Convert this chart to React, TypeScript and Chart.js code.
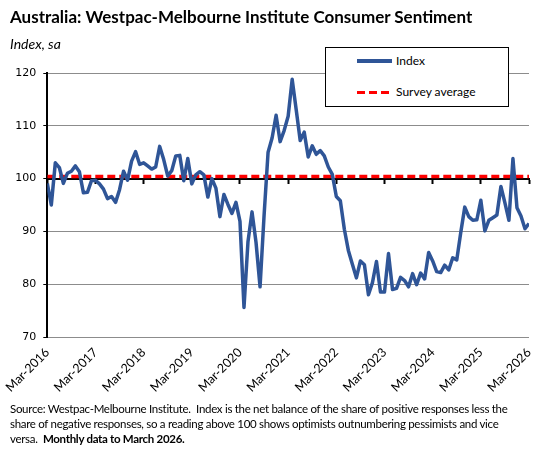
import React, { useEffect, useRef } from 'react';
import { Chart, registerables } from 'chart.js';

Chart.register(...registerables);

// Tick labels on the bottom axis (one per March)
const tickLabels = [
  'Mar-2016', 'Mar-2017', 'Mar-2018', 'Mar-2019', 'Mar-2020', 'Mar-2021',
  'Mar-2022', 'Mar-2023', 'Mar-2024', 'Mar-2025', 'Mar-2026',
];

// Monthly index, Mar-2016 .. Mar-2026
const index2016 = [99.1, 95.0, 103.0, 102.1, 99.1, 101.0, 101.4, 102.4, 101.3, 97.3];
const index2017 = [97.4, 99.6, 99.7, 99.0, 98.0, 96.2, 96.6, 95.5, 97.9, 101.4, 99.7, 103.3];
const index2018 = [105.1, 102.7, 103.0, 102.4, 101.8, 102.2, 106.1, 103.6, 100.5, 101.5, 104.3, 104.4];
const index2019 = [99.6, 103.8, 99.0, 100.7, 101.3, 100.7, 96.5, 100.0, 98.2, 92.8, 97.0, 95.1];
const index2020 = [93.4, 95.5, 91.9, 75.6, 88.1, 93.7, 87.9, 79.5, 93.0, 105.0, 107.7, 112.0];
const index2021 = [107.0, 109.1, 111.8, 118.8, 113.1, 107.2, 108.8, 104.1, 106.2, 104.6, 105.3, 104.3];
const index2022 = [102.2, 100.8, 96.6, 95.8, 90.4, 86.4, 83.8, 81.2, 84.4, 83.7, 78.0, 80.3];
const index2023 = [84.3, 78.5, 78.5, 85.8, 79.0, 79.2, 81.3, 80.7, 79.5, 82.0, 79.9, 82.1];
const index2024 = [81.0, 86.0, 84.4, 82.4, 82.2, 83.6, 82.7, 85.0, 84.6, 89.8, 94.6, 92.8];
const index2025 = [92.1, 92.2, 95.9, 90.1, 92.1, 92.6, 93.1, 98.5, 95.4, 92.1, 103.8, 94.5];
const index2026 = [92.9, 90.5, 91.5];

const sentiment = [
  ...index2016, ...index2017, ...index2018, ...index2019, ...index2020, ...index2021,
  ...index2022, ...index2023, ...index2024, ...index2025, ...index2026,
];

const surveyAverage = 100.4;
const yMin = 70;
const yMax = 120;
const yStep = 10;
const monthsPerTick = 12;

const BLUE = '#2F5597';
const RED = '#FF0000';

export default function App() {
  const canvasRef = useRef<HTMLCanvasElement | null>(null);

  useEffect(() => {
    document.body.style.margin = '0';
    const canvas = canvasRef.current;
    if (!canvas) return;
    const lastIdx = sentiment.length - 1;
    const chart = new Chart(canvas, {
      type: 'line',
      data: {
        datasets: [
          {
            label: 'Index',
            data: sentiment.map((v, i) => ({ x: i, y: v })),
            borderColor: BLUE,
            borderWidth: 3.5,
            borderJoinStyle: 'round',
            pointRadius: 0,
            tension: 0,
            xAxisID: 'x',
            yAxisID: 'y',
          },
          {
            label: 'Survey average',
            data: [
              { x: 0, y: surveyAverage },
              { x: lastIdx, y: surveyAverage },
            ],
            borderColor: RED,
            borderWidth: 3.5,
            borderDash: [8, 4],
            pointRadius: 0,
            xAxisID: 'x',
            yAxisID: 'y',
          },
        ],
      },
      options: {
        animation: false,
        responsive: false,
        maintainAspectRatio: false,
        layout: { padding: { left: 0, top: 73, right: 19, bottom: 0 } },
        plugins: {
          legend: { display: false },
          tooltip: { enabled: false },
          title: { display: false },
        },
        scales: {
          x: {
            type: 'linear',
            min: 0,
            max: lastIdx,
            position: { y: 100 } as any,
            ticks: { display: false, stepSize: monthsPerTick },
            grid: {
              drawOnChartArea: false,
              drawTicks: true,
              tickLength: 4,
              tickColor: '#000',
              tickWidth: 2,
            },
            border: { color: '#000', width: 2 },
          },
          x2: {
            type: 'linear',
            position: 'bottom',
            min: 0,
            max: lastIdx,
            ticks: {
              stepSize: monthsPerTick,
              autoSkip: false,
              minRotation: 45,
              maxRotation: 45,
              padding: 8,
              color: '#000',
              font: { family: 'Lato', size: 12.5 },
              callback: (v: any) => tickLabels[Math.round(Number(v) / monthsPerTick)] ?? '',
            },
            grid: { display: false, drawTicks: false },
            border: { display: false },
            afterFit: (s: any) => {
              s.height = 117;
            },
          },
          y: {
            min: yMin,
            max: yMax,
            ticks: {
              stepSize: yStep,
              padding: 7,
              color: '#000',
              font: { family: 'DejaVu Sans', size: 11 },
            },
            grid: {
              color: (ctx: any) => (ctx.tick && ctx.tick.value === 100 ? 'rgba(0,0,0,0)' : '#8C8C8C'),
              tickColor: '#000',
              tickLength: 4,
              tickWidth: 1,
            },
            border: { color: '#000', width: 2 },
            afterFit: (s: any) => {
              s.width = 44;
            },
          },
        },
      },
    });
    return () => chart.destroy();
  }, []);

  const textFont = 'Lato, "Open Sans", sans-serif';

  return (
    <div style={{ position: 'relative', width: 548, height: 454, background: '#fff', overflow: 'hidden' }}>
      <canvas ref={canvasRef} width={548} height={454} style={{ position: 'absolute', left: 0, top: 0, width: 548, height: 454 }} />
      <div style={{ position: 'absolute', left: 10, top: 7, fontFamily: textFont, fontWeight: 700, fontSize: 17, lineHeight: '20px', whiteSpace: 'nowrap', color: '#000' }}>
        Australia: Westpac-Melbourne Institute Consumer Sentiment
      </div>
      <div style={{ position: 'absolute', left: 10, top: 36, fontFamily: textFont, fontStyle: 'italic', fontSize: 14, lineHeight: '16px', whiteSpace: 'nowrap', color: '#000' }}>
        Index, sa
      </div>
      {/* Legend */}
      <div style={{ position: 'absolute', left: 325, top: 47, width: 182, height: 58, border: '1px solid #000', background: '#fff' }} />
      <div style={{ position: 'absolute', left: 357, top: 59, width: 35, height: 3.5, background: BLUE }} />
      <div style={{ position: 'absolute', left: 396, top: 53, fontFamily: textFont, fontSize: 12, lineHeight: '15px', whiteSpace: 'nowrap', color: '#000' }}>
        Index
      </div>
      <div style={{ position: 'absolute', left: 357, top: 90.5, width: 35, height: 3.5, background: `repeating-linear-gradient(to right, ${RED} 0px, ${RED} 8px, transparent 8px, transparent 12px)` }} />
      <div style={{ position: 'absolute', left: 396, top: 84, fontFamily: textFont, fontSize: 12, lineHeight: '15px', whiteSpace: 'nowrap', color: '#000' }}>
        Survey average
      </div>
      {/* Footer */}
      <div style={{ position: 'absolute', left: 10, top: 400.5, fontFamily: textFont, fontSize: 11.5, letterSpacing: '-0.3px', lineHeight: '15px', whiteSpace: 'nowrap', color: '#000' }}>
        Source: Westpac-Melbourne Institute.&nbsp; Index is the net balance of the share of positive responses less the
        <br />
        share of negative responses, so a reading above 100 shows optimists outnumbering pessimists and vice
        <br />
        versa.&nbsp; <b>Monthly data to March 2026.</b>
      </div>
    </div>
  );
}
